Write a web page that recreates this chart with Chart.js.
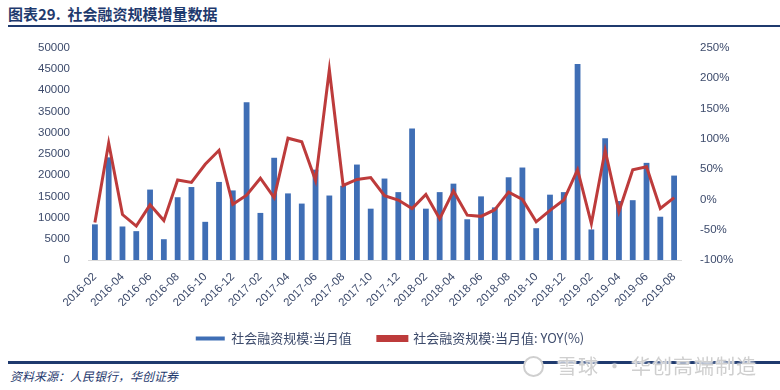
<!DOCTYPE html>
<html>
<head>
<meta charset="utf-8">
<script src="https://cdn.jsdelivr.net/npm/chart.js@4/dist/chart.umd.min.js"></script>
<style>
    html, body { margin: 0; padding: 0; background: #fff; }
    body { width: 780px; height: 390px; overflow: hidden; position: relative; font-family: "Noto Sans CJK SC", sans-serif; }
    #title { position: absolute; left: 8px; top: 6px; font-size: 15px; line-height: 16px; font-weight: bold; color: #1f3a6e; }
    .rule { position: absolute; left: 8px; right: 0; background: #1f3a6e; }
    #wrap { position: absolute; left: 0; top: 30px; width: 780px; height: 325px; }
    #source { position: absolute; left: 10px; top: 368px; font-size: 12px; line-height: 16px; font-style: italic; color: #1f3a6e; z-index: 2; }
    #mark { position: absolute; left: 557px; top: 354px; font-size: 20px; line-height: 24px; letter-spacing: 1px; color: #cfcfcf; z-index: 3;
            text-shadow: 0 0 2px #fff, 0 0 2px #fff, 0 0 2px #fff; }
    #logo { position: absolute; left: 523px; top: 356px; width: 17px; height: 17px; border: 2px solid #cfcfcf; border-radius: 50%; background: #fff; z-index: 3; }
</style>
</head>
<body>
<div id="title">图表29.&nbsp;&nbsp;社会融资规模增量数据</div>
<div class="rule" style="top:25px;height:2px;"></div>
<div id="wrap"><canvas id="chart"></canvas></div>
<div class="rule" style="top:361px;height:3px;z-index:1;"></div>
<div id="source">资料来源：人民银行，华创证券</div>
<div id="logo"></div>
<div id="mark">雪球 · 华创高端制造</div>

<script>
    const months = [
        '2016-02', '2016-03', '2016-04', '2016-05', '2016-06', '2016-07', '2016-08', '2016-09', '2016-10', '2016-11', '2016-12',
        '2017-01', '2017-02', '2017-03', '2017-04', '2017-05', '2017-06', '2017-07', '2017-08', '2017-09', '2017-10', '2017-11', '2017-12',
        '2018-01', '2018-02', '2018-03', '2018-04', '2018-05', '2018-06', '2018-07', '2018-08', '2018-09', '2018-10', '2018-11', '2018-12',
        '2019-01', '2019-02', '2019-03', '2019-04', '2019-05', '2019-06', '2019-07', '2019-08'
    ];

    // 社会融资规模：当月值（亿元）
    const monthlyValue = [
        8400, 24200, 7900, 6800, 16600, 4900, 14800, 17200, 9000, 18400, 16400,
        37200, 11100, 24100, 15700, 13300, 21300, 15200, 17500, 22500, 12100, 19200, 16000,
        31000, 12100, 16000, 18000, 9600, 15000, 12400, 19500, 21800, 7500, 15400, 16000,
        46200, 7200, 28700, 13900, 14100, 22900, 10200, 19900
    ];

    // 同比（%）
    const yoyPct = [
        -38, 93, -25, -44, -9, -35, 32, 28, 58, 81, -8,
        7, 35, 3, 101, 95, 31, 214, 23, 33, 36, 6, -1,
        -15, 8, -32, 14, -26, -28, -17, 12, 0, -37, -18, -1,
        49, -40, 81, -20, 49, 54, -15, 3
    ];

    const leftTicks = { min: 0, max: 50000, step: 5000 };
    const rightTicks = { min: -100, max: 250, step: 50 };

    const tickColor = '#3c4a6b';
    const tickFont = { family: 'Liberation Sans, Arial, sans-serif', size: 11.5 };

    new Chart(document.getElementById('chart'), {
        data: {
            labels: months,
            datasets: [
                {
                    type: 'bar',
                    label: '社会融资规模:当月值',
                    data: monthlyValue,
                    backgroundColor: '#3f6eb5',
                    categoryPercentage: 1,
                    barPercentage: 0.42,
                    yAxisID: 'y',
                    order: 2
                },
                {
                    type: 'line',
                    label: '社会融资规模:当月值: YOY(%)',
                    data: yoyPct,
                    borderColor: '#bd3b3b',
                    backgroundColor: '#bd3b3b',
                    borderWidth: 3,
                    pointRadius: 0,
                    tension: 0,
                    yAxisID: 'y1',
                    order: 1
                }
            ]
        },
        options: {
            responsive: true,
            maintainAspectRatio: false,
            animation: false,
            layout: { padding: { top: 17, left: 0, right: 0, bottom: 0 } },
            plugins: {
                tooltip: { enabled: false },
                legend: {
                    position: 'bottom',
                    labels: {
                        boxWidth: 29,
                        boxHeight: 4,
                        padding: 26,
                        color: tickColor,
                        font: { family: 'Noto Sans CJK SC', size: 13 },
                        sort: (a, b) => a.datasetIndex - b.datasetIndex
                    }
                }
            },
            scales: {
                x: {
                    grid: { display: false },
                    border: { display: true, color: '#d9d9d9', width: 1 },
                    ticks: {
                        autoSkip: false,
                        maxRotation: 45,
                        minRotation: 45,
                        padding: 2,
                        color: tickColor,
                        font: tickFont,
                        callback: function (value, index) {
                            return index % 2 === 0 ? this.getLabelForValue(value) : '';
                        }
                    },
                    afterFit: (scale) => { scale.height = 46; }
                },
                y: {
                    position: 'left',
                    min: leftTicks.min,
                    max: leftTicks.max,
                    grid: { display: false },
                    border: { display: false },
                    ticks: {
                        stepSize: leftTicks.step,
                        padding: 10,
                        color: tickColor,
                        font: tickFont,
                        callback: (v) => String(v)
                    },
                    afterFit: (scale) => { scale.width = 88; }
                },
                y1: {
                    position: 'right',
                    min: rightTicks.min,
                    max: rightTicks.max,
                    grid: { display: false },
                    border: { display: false },
                    ticks: {
                        stepSize: rightTicks.step,
                        padding: 11,
                        color: tickColor,
                        font: tickFont,
                        callback: (v) => v + '%'
                    },
                    afterFit: (scale) => { scale.width = 99; }
                }
            }
        }
    });
</script>
</body>
</html>
